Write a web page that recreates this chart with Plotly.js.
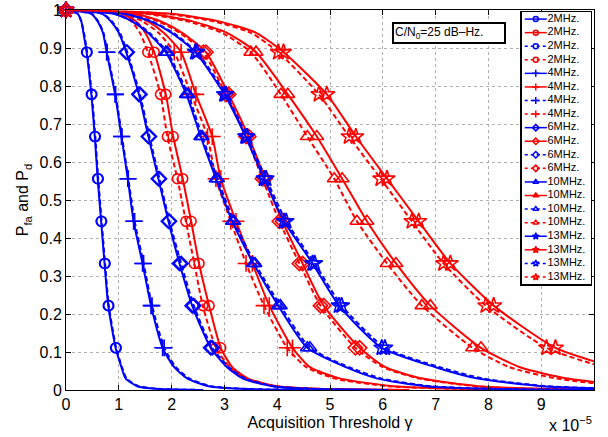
<!DOCTYPE html>
<html><head><meta charset="utf-8">
<script src="https://cdn.plot.ly/plotly-3.0.1.min.js"></script>
<style>html,body{margin:0;padding:0;background:#fff}</style>
</head><body><div id="chart" style="width:608px;height:437px"></div>
<script>
// Probability levels (Pfa for blue, Pd for red) at which thresholds were read
const probLevels   = [1, 0.99, 0.97, 0.94, 0.889, 0.778, 0.667, 0.556, 0.444, 0.333, 0.222, 0.111, 0.06, 0.03, 0.01, 0.003, 0];
const markerLevels = [1, 0.889, 0.778, 0.667, 0.556, 0.444, 0.333, 0.222, 0.111];
const bandLabels   = ['2MHz.', '4MHz.', '6MHz.', '10MHz.', '13MHz.'];
const xTicks = [0, 1, 2, 3, 4, 5, 6, 7, 8, 9];
const yTicks = [0, 0.1, 0.2, 0.3, 0.4, 0.5, 0.6, 0.7, 0.8, 0.9, 1];

// Acquisition threshold gamma (x 1e-5) at each probability level
// 2 MHz
const gammaPfa2  = [0, 0.22, 0.29, 0.33, 0.39, 0.48, 0.545, 0.60, 0.665, 0.73, 0.80, 0.94, 1.05, 1.13, 1.35, 1.7, 2.5];
const gammaPd2   = [0, 1.05, 1.33, 1.50, 1.67, 1.89, 2.03, 2.21, 2.37, 2.52, 2.71, 2.93, 3.15, 3.45, 4.0, 4.8, 6.5];
const gammaPfa2d = [0, 0.22, 0.29, 0.34, 0.40, 0.49, 0.555, 0.61, 0.675, 0.74, 0.81, 0.95, 1.06, 1.15, 1.37, 1.75, 2.6];
const gammaPd2d  = [0, 0.95, 1.24, 1.40, 1.55, 1.79, 1.92, 2.11, 2.27, 2.43, 2.59, 2.84, 3.10, 3.40, 3.95, 4.75, 6.4];
// 4 MHz
const gammaPfa4  = [0, 0.48, 0.60, 0.70, 0.77, 0.93, 1.05, 1.17, 1.28, 1.45, 1.61, 1.83, 2.05, 2.30, 2.70, 3.30, 4.5];
const gammaPd4   = [0, 1.20, 1.55, 1.85, 2.18, 2.46, 2.77, 2.93, 3.22, 3.53, 3.85, 4.29, 4.62, 5.20, 6.20, 7.50, 9.0];
const gammaPfa4d = [0, 0.49, 0.61, 0.71, 0.78, 0.94, 1.06, 1.18, 1.30, 1.47, 1.63, 1.86, 2.08, 2.34, 2.75, 3.40, 4.6];
const gammaPd4d  = [0, 1.10, 1.45, 1.75, 2.05, 2.37, 2.68, 2.84, 3.12, 3.41, 3.75, 4.19, 4.55, 5.10, 6.10, 7.40, 8.9];
// 6 MHz
const gammaPfa6  = [0, 0.69, 0.85, 1.00, 1.14, 1.38, 1.56, 1.75, 1.94, 2.15, 2.39, 2.74, 3.05, 3.35, 3.90, 4.60, 6.0];
const gammaPd6   = [0, 1.30, 1.80, 2.20, 2.65, 3.08, 3.46, 3.77, 4.10, 4.48, 4.88, 5.56, 6.05, 6.75, 7.80, 9.00, 11.0];
const gammaPfa6d = [0, 0.70, 0.87, 1.02, 1.16, 1.40, 1.58, 1.77, 1.96, 2.18, 2.42, 2.77, 3.09, 3.40, 3.95, 4.70, 6.1];
const gammaPd6d  = [0, 1.25, 1.75, 2.15, 2.60, 3.03, 3.41, 3.72, 4.04, 4.42, 4.82, 5.48, 6.00, 6.70, 7.75, 8.90, 10.9];
// 10 MHz
const gammaPfa10  = [0, 0.90, 1.25, 1.55, 1.89, 2.28, 2.55, 2.84, 3.15, 3.55, 4.02, 4.57, 5.30, 5.90, 6.80, 8.0, 10.5];
const gammaPd10   = [0, 1.60, 2.40, 3.05, 3.60, 4.20, 4.75, 5.23, 5.70, 6.25, 6.90, 7.86, 8.60, 9.50, 10.8, 12.0, 14.0];
const gammaPfa10d = [0, 0.92, 1.28, 1.58, 1.92, 2.31, 2.58, 2.87, 3.18, 3.58, 4.06, 4.62, 5.36, 5.98, 6.90, 8.1, 10.6];
const gammaPd10d  = [0, 1.50, 2.30, 2.95, 3.50, 4.07, 4.57, 5.08, 5.51, 6.08, 6.74, 7.70, 8.40, 9.30, 10.6, 11.8, 13.8];
// 13 MHz
const gammaPfa13  = [0, 1.10, 1.60, 2.00, 2.45, 3.00, 3.40, 3.75, 4.13, 4.67, 5.17, 5.98, 7.00, 7.80, 9.00, 10.5, 12.0];
const gammaPd13   = [0, 2.00, 2.90, 3.60, 4.12, 4.94, 5.49, 6.08, 6.68, 7.28, 8.10, 9.27, 10.4, 11.6, 13.0, 14.5, 16.0];
const gammaPfa13d = [0, 1.12, 1.63, 2.03, 2.48, 3.03, 3.43, 3.79, 4.17, 4.71, 5.22, 6.04, 7.08, 7.90, 9.10, 10.6, 12.1];
const gammaPd13d  = [0, 1.90, 2.80, 3.50, 4.02, 4.79, 5.36, 5.96, 6.55, 7.15, 7.95, 9.10, 10.2, 11.4, 12.8, 14.3, 15.8];

const groups = [
  [gammaPfa2,  gammaPd2,  gammaPfa2d,  gammaPd2d],
  [gammaPfa4,  gammaPd4,  gammaPfa4d,  gammaPd4d],
  [gammaPfa6,  gammaPd6,  gammaPfa6d,  gammaPd6d],
  [gammaPfa10, gammaPd10, gammaPfa10d, gammaPd10d],
  [gammaPfa13, gammaPd13, gammaPfa13d, gammaPd13d]
];

const symbols = ['circle-open', 'cross-thin-open', 'diamond-open', 'triangle-up-open', 'star-open'];
const mSizes = [10, 12, 11, 12, 12];
const variants = [
  {color: '#0000ff', dash: 'solid'},
  {color: '#ff0000', dash: 'solid'},
  {color: '#0000ff', dash: '5px,3px'},
  {color: '#ff0000', dash: '5px,3px'}
];

const traces = [];
groups.forEach((grp, b) => grp.forEach((xs, v) => {
  const st = variants[v];
  traces.push({
    x: xs, y: probLevels, mode: 'lines', xaxis: 'x', yaxis: 'y',
    line: {color: st.color, width: 2, dash: st.dash, shape: 'spline', smoothing: 0.6},
    hoverinfo: 'skip', showlegend: false
  });
  const mx = [], my = [];
  probLevels.forEach((p, k) => { if (markerLevels.includes(p)) { mx.push(xs[k]); my.push(p); } });
  traces.push({
    x: mx, y: my, mode: 'markers', xaxis: 'x', yaxis: 'y', cliponaxis: false,
    marker: {symbol: symbols[b], size: mSizes[b], color: st.color, line: {color: st.color, width: 1.6}},
    hoverinfo: 'skip', showlegend: false
  });
}));

// Legend drawn as an inset subplot
const legLabels = [], legIdx = [];
let idx = 0;
groups.forEach((grp, b) => grp.forEach((xs, v) => {
  const st = variants[v];
  traces.push({
    x: [0.04, 0.36], y: [idx, idx], xaxis: 'x2', yaxis: 'y2', mode: 'lines',
    line: {color: st.color, width: 1.5, dash: v >= 2 ? '3px,3px' : 'solid'},
    hoverinfo: 'skip', showlegend: false
  });
  traces.push({
    x: [0.20], y: [idx], xaxis: 'x2', yaxis: 'y2', mode: 'markers',
    marker: {symbol: symbols[b], size: 5, color: st.color, line: {color: st.color, width: 1.5}},
    hoverinfo: 'skip', showlegend: false
  });
  legLabels.push(bandLabels[b]);
  legIdx.push(idx);
  idx++;
}));
traces.push({
  x: legIdx.map(() => 0.37), y: legIdx, text: legLabels, xaxis: 'x2', yaxis: 'y2',
  mode: 'text', textposition: 'middle right', cliponaxis: false,
  textfont: {size: 11, color: '#000', family: 'Liberation Sans, Arial, sans-serif'},
  hoverinfo: 'skip', showlegend: false
});

const axBase = {
  showline: true, linecolor: '#000', linewidth: 1, mirror: 'ticks',
  ticks: 'inside', ticklen: 5, tickcolor: '#000', tickwidth: 1,
  showgrid: true, gridcolor: '#b0b0b0', griddash: 'dot', gridwidth: 1,
  zeroline: false, tickfont: {size: 16}
};

const layout = {
  width: 608, height: 437,
  margin: {l: 66, r: 14, t: 10, b: 47},
  paper_bgcolor: '#fff', plot_bgcolor: '#fff',
  font: {family: 'Liberation Sans, Arial, sans-serif', size: 16, color: '#000'},
  showlegend: false,
  xaxis: Object.assign({}, axBase, {
    range: [0, 10], tickvals: xTicks,
    title: {text: 'Acquisition Threshold γ', font: {size: 16}, standoff: 4}
  }),
  yaxis: Object.assign({}, axBase, {
    range: [0, 1], tickvals: yTicks,
    title: {text: 'P<sub>fa</sub> and P<sub>d</sub>', font: {size: 16}, standoff: 6}
  }),
  xaxis2: {domain: [0.8636, 0.9943], anchor: 'y2', range: [0, 1], showline: true, mirror: true,
    linecolor: '#000', linewidth: 1.5, showgrid: false, zeroline: false, showticklabels: false, ticks: ''},
  yaxis2: {domain: [0.2789, 0.9947], anchor: 'x2', range: [19.52, -0.52], showline: true, mirror: true,
    linecolor: '#000', linewidth: 1.5, showgrid: false, zeroline: false, showticklabels: false, ticks: ''},
  annotations: [
    {text: 'C/N<sub>0</sub>=25 dB–Hz.', xref: 'paper', yref: 'paper', x: 0.617, y: 0.968,
     xanchor: 'left', yanchor: 'top', showarrow: false, align: 'left', width: 108, height: 16,
     bordercolor: '#000', borderwidth: 2, borderpad: 1, bgcolor: '#fff', font: {size: 12}},
    {text: 'x 10<sup>−5</sup>', xref: 'paper', yref: 'paper', x: 1.0, y: -0.09,
     xanchor: 'right', yanchor: 'middle', showarrow: false, font: {size: 16}}
  ]
};

Plotly.newPlot('chart', traces, layout, {staticPlot: true});
</script>
</body></html>
